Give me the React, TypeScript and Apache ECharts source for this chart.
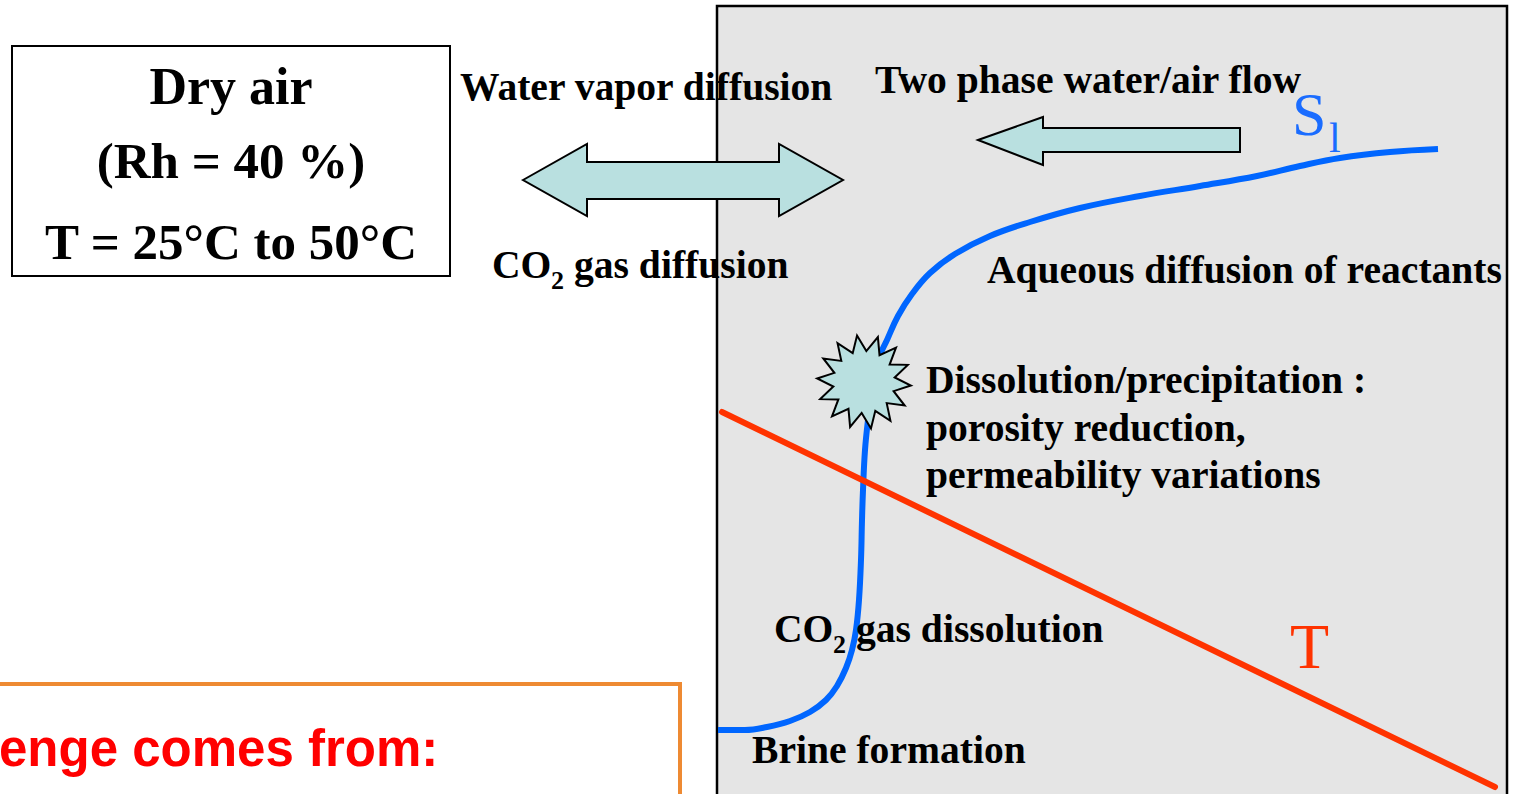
import React, { useEffect, useRef } from "react";
import * as echarts from "echarts";

// Blue liquid-saturation curve S_l (x, y in figure pixels)
const slX = [718, 745, 767, 790, 810, 826, 837, 846, 852, 856, 859, 861, 862, 863, 865, 868, 872, 878, 887, 898, 912, 930, 955, 990, 1030, 1080, 1140, 1200, 1257, 1300, 1340, 1390, 1438];
const slY = [730, 730, 727, 721, 712, 700, 686, 668, 650, 630, 600, 560, 520, 490, 450, 420, 390, 360, 340, 316, 294, 273, 254, 236, 222, 208, 196, 186, 176, 166, 158, 152, 149];
// Red temperature line T
const tX = [722, 1495];
const tY = [412, 787];

const dryAirLines = ["Dry air", "(Rh = 40 %)", "T = 25°C to 50°C"];
const dissolutionLines = ["Dissolution/precipitation :", "porosity reduction,", "permeability variations"];

export default function App() {
  const ref = useRef<HTMLDivElement>(null);
  useEffect(() => {
    if (!ref.current) return;
    const chart = echarts.init(ref.current, null, { renderer: "svg" });
    const serif = "'Liberation Serif', 'Times New Roman', serif";
    const fill = "#b9e0e0";
    const bold = (text: string, x: number, y: number, size = 39.6, align = "left") => ({
      type: "text",
      z: 10,
      style: { text, x, y, font: `bold ${size}px ${serif}`, fill: "#000", align, verticalAlign: "middle" },
    });
    // star polygon
    const starPts: number[][] = [];
    const n = 14, cx = 864, cy = 382, ro = 47, ri = 31;
    for (let i = 0; i < n * 2; i++) {
      const a = -Math.PI / 2 + 0.3 + (i * Math.PI) / n;
      const r = i % 2 === 0 ? ro : ri;
      starPts.push([cx + r * Math.cos(a), cy + r * Math.sin(a)]);
    }
    const graphics: any[] = [
      { type: "rect", z: 0, shape: { x: 717, y: 6, width: 790, height: 820 }, style: { fill: "#e5e5e5", stroke: "#000", lineWidth: 2.5 } },
      { type: "rect", z: 10, shape: { x: 12, y: 46, width: 438, height: 230 }, style: { fill: "#fff", stroke: "#000", lineWidth: 2 } },
      bold(dryAirLines[0], 231, 86, 52, "center"),
      bold(dryAirLines[1], 231, 161, 51, "center"),
      bold(dryAirLines[2], 231, 242, 51, "center"),
      bold("Water vapor diffusion", 460, 87),
      bold("Two phase water/air flow", 875, 80),
      bold("CO", 492, 265),
      bold("2", 551, 280, 26),
      bold("gas diffusion", 574, 265),
      bold("Aqueous diffusion of reactants", 987, 270),
      bold(dissolutionLines[0], 926, 380),
      bold(dissolutionLines[1], 926, 428),
      bold(dissolutionLines[2], 926, 475),
      bold("CO", 774, 629),
      bold("2", 833, 644, 26),
      bold("gas dissolution", 856, 629),
      bold("Brine formation", 752, 750),
      { type: "text", z: 10, style: { text: "S", x: 1292, y: 114, font: `62px ${serif}`, fill: "#1a6cff", verticalAlign: "middle" } },
      { type: "text", z: 10, style: { text: "l", x: 1329, y: 138, font: `42px ${serif}`, fill: "#1a6cff", verticalAlign: "middle" } },
      { type: "text", z: 10, style: { text: "T", x: 1290, y: 646, font: `64px ${serif}`, fill: "#ff3300", verticalAlign: "middle" } },
      {
        type: "polygon", z: 10,
        shape: { points: [[523, 180], [587, 144], [587, 162], [779, 162], [779, 144], [843, 180], [779, 216], [779, 199], [587, 199], [587, 216]] },
        style: { fill, stroke: "#000", lineWidth: 2 },
      },
      {
        type: "polygon", z: 10,
        shape: { points: [[978, 140], [1043, 117], [1043, 128], [1240, 128], [1240, 152], [1043, 152], [1043, 165]] },
        style: { fill, stroke: "#000", lineWidth: 2 },
      },
      { type: "polygon", z: 10, shape: { points: starPts }, style: { fill, stroke: "#000", lineWidth: 2 } },
      { type: "rect", z: 10, shape: { x: -10, y: 684, width: 690, height: 200 }, style: { fill: "#fff", stroke: "#ee8a32", lineWidth: 4 } },
      { type: "text", z: 11, style: { text: "enge comes from:", x: -1, y: 748, font: `bold 51px 'Liberation Sans', Arial, sans-serif`, fill: "#ff0000", verticalAlign: "middle" } },
    ];
    chart.setOption({
      animation: false,
      grid: { left: 0, right: 0, top: 0, bottom: 0 },
      xAxis: { type: "value", min: 0, max: 1515, show: false },
      yAxis: { type: "value", min: 0, max: 794, inverse: true, show: false },
      series: [
        {
          type: "line", z: 2, smooth: 0.4, symbol: "none",
          data: slX.map((x, i) => [x, slY[i]]),
          lineStyle: { color: "#0066ff", width: 6 },
        },
        {
          type: "line", z: 3, symbol: "none",
          data: tX.map((x, i) => [x, tY[i]]),
          lineStyle: { color: "#ff3300", width: 6, cap: "round" },
        },
      ],
      graphic: { elements: graphics },
    });
    return () => chart.dispose();
  }, []);
  return <div ref={ref} style={{ position: "absolute", left: 0, top: 0, width: 1515, height: 794, background: "#fff" }} />;
}
